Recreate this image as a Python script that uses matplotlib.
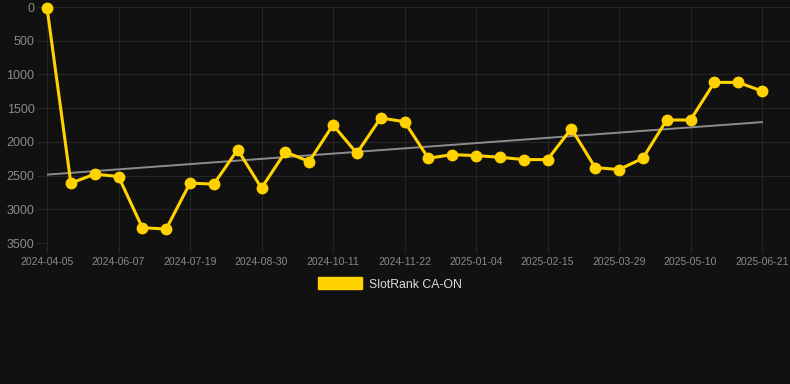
import numpy as np
import matplotlib
matplotlib.use('Agg')
import matplotlib.pyplot as plt

plt.rcParams['font.family'] = ['Liberation Sans', 'DejaVu Sans']

dates = ['2024-04-05', '2024-04-26', '2024-05-17', '2024-06-07', '2024-06-21', '2024-07-05',
         '2024-07-19', '2024-08-02', '2024-08-16', '2024-08-30', '2024-09-13', '2024-09-27',
         '2024-10-11', '2024-10-25', '2024-11-08', '2024-11-22', '2024-12-06', '2024-12-20',
         '2025-01-04', '2025-01-18', '2025-02-01', '2025-02-15', '2025-03-01', '2025-03-15',
         '2025-03-29', '2025-04-12', '2025-04-26', '2025-05-10', '2025-05-24', '2025-06-07',
         '2025-06-21']
rank = [10, 2612, 2479, 2514, 3273, 3293, 2612, 2627, 2115, 2686, 2149, 2292,
        1750, 2169, 1646, 1701, 2243, 2189, 2204, 2228, 2263, 2263, 1804, 2381,
        2411, 2243, 1676, 1676, 1118, 1118, 1247]
series_name = 'SlotRank CA-ON'

bg = '#111111'
gold = '#FFD200'
grid_c = '#262626'

fig = plt.figure(figsize=(7.9, 3.84), dpi=100, facecolor=bg)
ax = fig.add_axes([47/790, 1 - 243/384, 743/790, 236/384], facecolor=bg)

x = np.arange(len(rank))
ax.plot(x, rank, color=gold, lw=2.2, marker='o', ms=7.5, clip_on=False, zorder=3,
        label=series_name)

# trend line (least squares fit)
k, b = np.polyfit(x, rank, 1)
ax.plot(x, k * x + b, color='#8c8c8c', lw=1.4, zorder=2)

ax.set_ylim(3500, 0)
ax.set_yticks(range(0, 3501, 500))
ax.set_xlim(0, (790 - 47) / ((762 - 47) / 30))
ax.set_xticks(x[::3])
ax.set_xticklabels(dates[::3])

ax.grid(True, color=grid_c, lw=0.8)
for s in ax.spines.values():
    s.set_visible(False)
ax.tick_params(axis='x', colors=grid_c, length=7, width=0.8, labelcolor='#8a8a8a',
               labelsize=7.5, pad=3)
ax.tick_params(axis='y', colors=grid_c, length=7, width=0.8, labelcolor='#8a8a8a',
               labelsize=9, pad=2)

handle = plt.Rectangle((0, 0), 1, 1, color=gold)
leg = fig.legend([handle], [series_name], loc='center', bbox_to_anchor=(390/790, 1 - 284/384),
                 frameon=False, fontsize=8.8, handlelength=3.6, handleheight=1.1,
                 handletextpad=0.6)
for t in leg.get_texts():
    t.set_color('#dddddd')

fig.savefig('out.png', dpi=100, facecolor=bg)
